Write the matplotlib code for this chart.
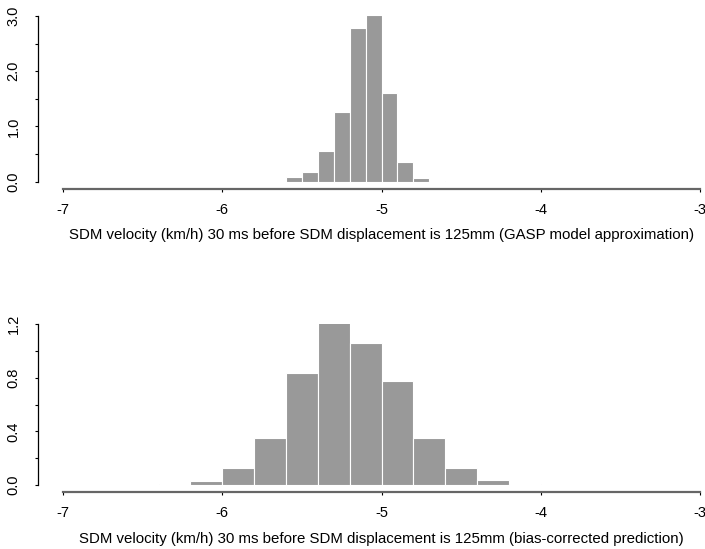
import matplotlib
matplotlib.use("Agg")
import matplotlib.pyplot as plt
import numpy as np

plt.rcParams["font.family"] = ["Liberation Sans", "DejaVu Sans"]

# top panel: GASP model approximation (density, bin width 0.1)
top_edges = [-5.6, -5.5, -5.4, -5.3, -5.2, -5.1, -5.0, -4.9, -4.8, -4.7, -4.6]
top_density = [0.085, 0.175, 0.555, 1.27, 2.79, 3.02, 1.61, 0.35, 0.065, 0.02]

# bottom panel: bias-corrected prediction (density, bin width 0.2)
bot_edges = [-6.4, -6.2, -6.0, -5.8, -5.6, -5.4, -5.2, -5.0, -4.8, -4.6, -4.4, -4.2, -4.0]
bot_density = [0.01, 0.03, 0.13, 0.35, 0.84, 1.24, 1.06, 0.78, 0.35, 0.125, 0.035, 0.005]

x_ticks = [-7, -6, -5, -4, -3]
top_yticks = [0.0, 1.0, 2.0, 3.0]
bot_yticks = [0.0, 0.4, 0.8, 1.2]

top_label = "SDM velocity (km/h) 30 ms before SDM displacement is 125mm (GASP model approximation)"
bot_label = "SDM velocity (km/h) 30 ms before SDM displacement is 125mm (bias-corrected prediction)"

W, H = 705, 549
fig = plt.figure(figsize=(W / 100, H / 100), dpi=100)


def panel(rect_px, edges, dens, yticks, ystep, xlabel):
    x0, ytop, x1, ybot = rect_px
    ax = fig.add_axes([x0 / W, 1 - ybot / H, (x1 - x0) / W, (ybot - ytop) / H])
    edges = np.array(edges)
    ax.bar(edges[:-1], dens, width=np.diff(edges), align="edge",
           color="#999999", edgecolor="white", linewidth=0.8)
    ax.set_xlim(-7, -3)
    ax.set_ylim(0, yticks[-1])
    for s in ["top", "right"]:
        ax.spines[s].set_visible(False)
    # outward offsets are in points (1 px = 0.72 pt here)
    ax.spines["left"].set_position(("outward", 18))
    ax.spines["left"].set_bounds(yticks[0], yticks[-1])
    ax.spines["left"].set_linewidth(0.9)
    ax.spines["bottom"].set_position(("outward", 5))
    ax.spines["bottom"].set_bounds(-7, -3)
    ax.spines["bottom"].set_color("#666666")
    ax.spines["bottom"].set_linewidth(1.6)
    ax.set_xticks(x_ticks)
    ax.set_xticklabels([str(v) for v in x_ticks])
    ax.set_yticks(yticks)
    ax.set_yticklabels([f"{v:.1f}" for v in yticks], rotation=90, va="center")
    ax.set_yticks(np.arange(yticks[0], yticks[-1] + 1e-9, ystep), minor=True)
    ax.tick_params(axis="y", which="both", length=2.5, width=0.8, pad=10, labelsize=10.5)
    ax.tick_params(axis="x", length=2.5, width=0.8, pad=7.5, labelsize=10.5)
    ax.set_xlabel(xlabel, fontsize=10.8, labelpad=8.5)
    return ax


panel((63, 16, 700, 181.7), top_edges, top_density, top_yticks, 0.5, top_label)
panel((63, 324.3, 700, 485), bot_edges, bot_density, bot_yticks, 0.2, bot_label)

fig.savefig("out.png", dpi=100)
